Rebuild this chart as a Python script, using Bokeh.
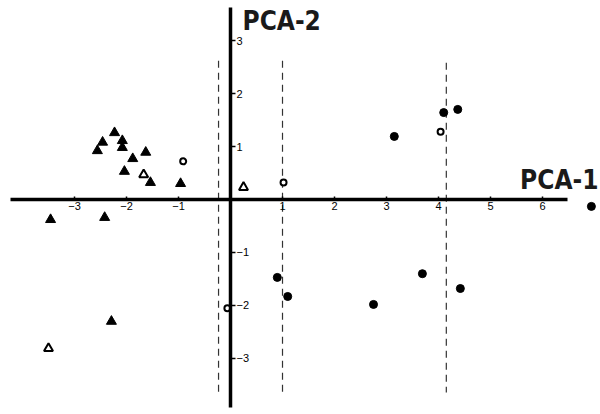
from bokeh.plotting import figure
from bokeh.models import LinearAxis, FixedTicker, Range1d, Label
from bokeh.embed import file_html
from bokeh.resources import INLINE

# ---- data ----
tri_x = [-2.23, -2.46, -2.56, -2.08, -2.08, -1.88, -1.63, -2.04, -1.54, -0.96, -3.46, -2.42, -2.29]
tri_y = [1.26, 1.08, 0.92, 1.11, 0.98, 0.77, 0.89, 0.53, 0.32, 0.30, -0.38, -0.34, -2.30]
tri_open_x = [-1.67, 0.25, -3.50]
tri_open_y = [0.47, 0.23, -2.81]
circ_x = [3.15, 4.10, 4.37, 3.69, 2.75, 4.42, 0.90, 1.10, 6.94]
circ_y = [1.19, 1.64, 1.70, -1.40, -1.98, -1.68, -1.47, -1.83, -0.13]
circ_open_x = [-0.91, 4.04, 1.02, -0.06]
circ_open_y = [0.72, 1.28, 0.32, -2.05]
div_x = [-0.23, 1.00, 4.15]
div_top = [2.62, 2.62, 2.58]
div_bottom = [-3.66, -3.66, -3.64]
x_ticks = [-3, -2, -1, 1, 2, 3, 4, 5, 6]
x_tick_labels = ["\u22123", "\u22122", "\u22121", "1", "2", "3", "4", "5", "6"]
y_ticks = [-3, -2, -1, 1, 2, 3]
y_tick_labels = ["\u22123", "\u22122", "\u22121", "1", "2", "3"]
x_title = "PCA-1"
y_title = "PCA-2"

p = figure(width=600, height=414, x_range=Range1d(-4.423, 7.115), y_range=Range1d(-4.057, 3.755),
           output_backend="svg", toolbar_location=None, x_axis_location=None, y_axis_location=None,
           min_border=0, outline_line_color=None)
p.grid.visible = False

common = dict(axis_line_width=3.5, minor_tick_line_color=None, major_label_text_font_size="11px",
              major_label_text_font="Liberation Sans", major_label_text_color="black",
              major_tick_line_color="black", major_tick_line_width=1.5)
xaxis = LinearAxis(fixed_location=0, bounds=(-4.23, 6.48), ticker=FixedTicker(ticks=x_ticks),
                   major_label_overrides={t: l for t, l in zip(x_ticks, x_tick_labels)},
                   major_tick_in=3, major_tick_out=0, major_label_standoff=3, **common)
p.add_layout(xaxis, "below")
yaxis = LinearAxis(fixed_location=0, bounds=(-3.92, 3.62), ticker=FixedTicker(ticks=y_ticks),
                   major_label_overrides={t: l for t, l in zip(y_ticks, y_tick_labels)},
                   major_tick_in=0, major_tick_out=5, major_label_standoff=1, **common)
p.add_layout(yaxis, "right")

p.segment(x0=div_x, x1=div_x, y0=div_top, y1=div_bottom, line_color="#333333",
          line_width=1.2, line_dash="7 5")

p.scatter(tri_x, tri_y, marker="triangle", size=10, fill_color="black", line_color="black")
p.scatter(tri_open_x, tri_open_y, marker="triangle", size=9, fill_color="white", line_color="black", line_width=2)
p.scatter(circ_x, circ_y, marker="circle", size=8, fill_color="black", line_color="black")
p.scatter(circ_open_x, circ_open_y, marker="circle", size=6, fill_color="white", line_color="black", line_width=2)

title_font = "DejaVu Sans Condensed"
p.add_layout(Label(x=598, y=235, x_units="screen", y_units="screen", text=x_title,
                   text_align="right", text_baseline="alphabetic", text_font=title_font,
                   text_font_style="bold", text_font_size="26px", text_color="#1a1a1a"))
p.add_layout(Label(x=242, y=394, x_units="screen", y_units="screen", text=y_title,
                   text_baseline="alphabetic", text_font=title_font,
                   text_font_style="bold", text_font_size="26px", text_color="#1a1a1a"))

open("out.html", "w").write(file_html(p, INLINE))
